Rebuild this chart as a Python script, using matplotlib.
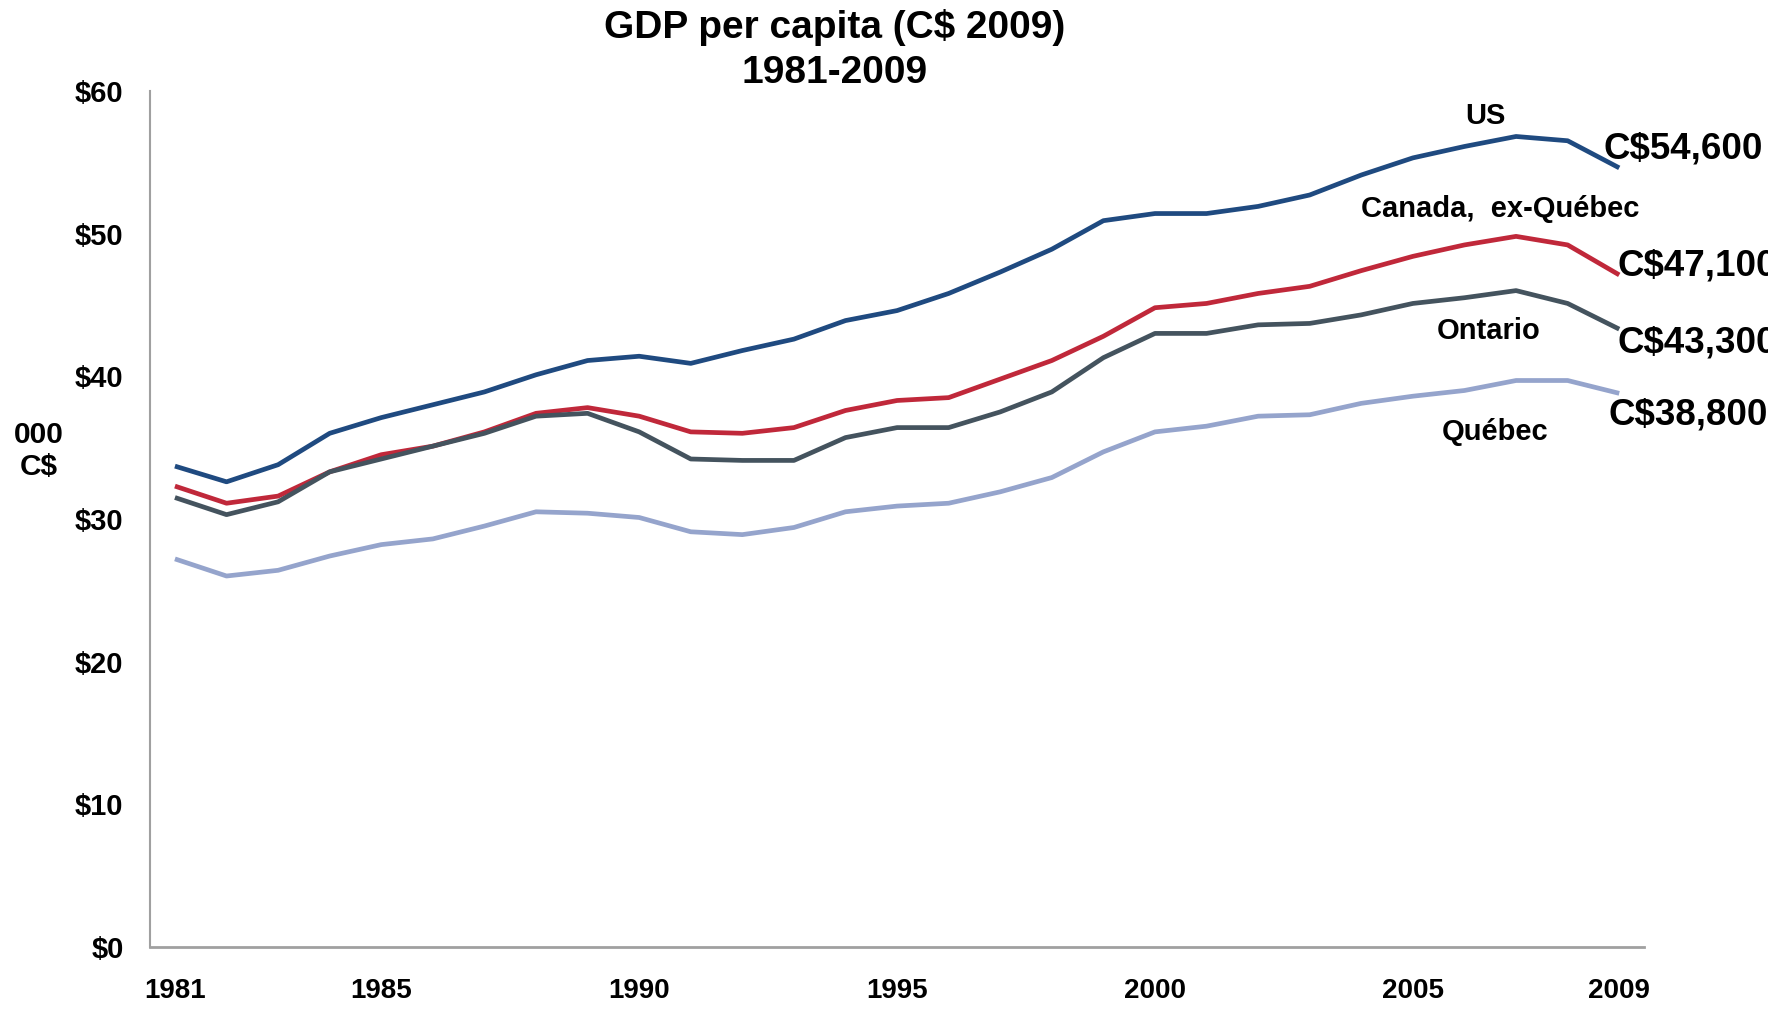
import numpy as np
import matplotlib.pyplot as plt

plt.rcParams['font.family'] = ['Liberation Sans', 'DejaVu Sans']

years = list(range(1981, 2010))

us = [33.7, 32.6, 33.8, 36.0, 37.1, 38.0, 38.9, 40.1, 41.1, 41.4,
      40.9, 41.8, 42.6, 43.9, 44.6, 45.8, 47.3, 48.9, 50.9, 51.4,
      51.4, 51.9, 52.7, 54.1, 55.3, 56.1, 56.8, 56.5, 54.6]
canada_exq = [32.3, 31.1, 31.6, 33.3, 34.5, 35.1, 36.1, 37.4, 37.8, 37.2,
              36.1, 36.0, 36.4, 37.6, 38.3, 38.5, 39.8, 41.1, 42.8, 44.8,
              45.1, 45.8, 46.3, 47.4, 48.4, 49.2, 49.8, 49.2, 47.1]
ontario = [31.5, 30.3, 31.2, 33.3, 34.2, 35.1, 36.0, 37.2, 37.4, 36.1,
           34.2, 34.1, 34.1, 35.7, 36.4, 36.4, 37.5, 38.9, 41.3, 43.0,
           43.0, 43.6, 43.7, 44.3, 45.1, 45.5, 46.0, 45.1, 43.3]
quebec = [27.2, 26.0, 26.4, 27.4, 28.2, 28.6, 29.5, 30.5, 30.4, 30.1,
          29.1, 28.9, 29.4, 30.5, 30.9, 31.1, 31.9, 32.9, 34.7, 36.1,
          36.5, 37.2, 37.3, 38.1, 38.6, 39.0, 39.7, 39.7, 38.8]

series_names = ['US', 'Canada,  ex-Québec', 'Ontario', 'Québec']
colors = ['#1f4a80', '#c0283a', '#44535e', '#95a4cc']
end_labels = ['C$54,600', 'C$47,100', 'C$43,300', 'C$38,800']

xticks = [1981, 1985, 1990, 1995, 2000, 2005, 2009]
yticks = [0, 10, 20, 30, 40, 50, 60]

fig = plt.figure(figsize=(17.68, 10.09), dpi=100)
ax = fig.add_axes([0.0848, 0.0614, 0.8452, 0.8486])

all_series = [us, canada_exq, ontario, quebec]
for vals, c in zip(all_series, colors):
    ax.plot(years, vals, color=c, lw=3.4, solid_capstyle='butt')

ax.set_xlim(1980.515, 2009.485)
ax.set_ylim(0, 60)
ax.set_xticks(xticks)
ax.set_xticklabels([str(x) for x in xticks], fontsize=20, fontweight='bold')
ax.set_yticks(yticks)
ax.set_yticklabels(['$%d' % v for v in yticks], fontsize=21, fontweight='bold')
ax.tick_params(axis='both', length=0)
ax.tick_params(axis='x', pad=22)
ax.tick_params(axis='y', pad=19)

for s in ['top', 'right']:
    ax.spines[s].set_visible(False)
ax.spines['left'].set_color('#a0a0a0')
ax.spines['bottom'].set_color('#a0a0a0')
ax.spines['left'].set_linewidth(1.5)
ax.spines['bottom'].set_linewidth(2)

# series names
name_pos = [(2006.4, 58.2), (2006.7, 51.7), (2006.46, 43.2), (2006.6, 36.1)]
for name, (x, y) in zip(series_names, name_pos):
    ax.text(x, y, name, fontsize=21, fontweight='bold', ha='center', va='center')

# end values
end_pos = [(2008.7, 55.9), (2008.96, 47.7), (2008.96, 42.3), (2008.8, 37.3)]
for lab, (x, y) in zip(end_labels, end_pos):
    ax.text(x, y, lab, fontsize=26.5, fontweight='bold', ha='left', va='center',
            clip_on=False)

fig.text(39 / 1768, 1 - 451 / 1009, '000\nC$', fontsize=21.5, fontweight='bold',
         ha='center', va='center', linespacing=1.15)

fig.text(835 / 1768, 1 - 28 / 1009, 'GDP per capita (C$ 2009)', fontsize=28,
         fontweight='bold', ha='center', va='center')
fig.text(835 / 1768, 1 - 73 / 1009, '1981-2009', fontsize=28,
         fontweight='bold', ha='center', va='center')

fig.savefig('out.png', dpi=100)
